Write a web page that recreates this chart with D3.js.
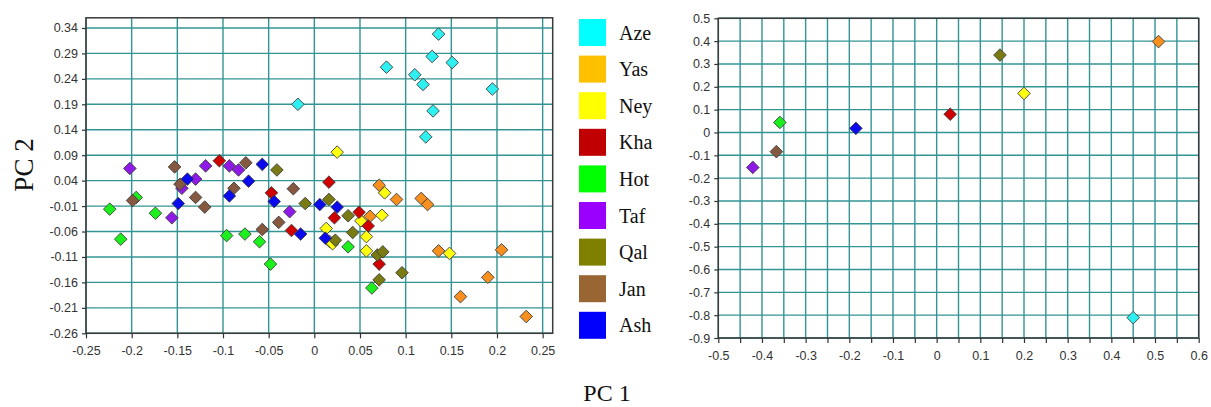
<!DOCTYPE html>
<html>
<head>
<meta charset="utf-8">
<script src="https://cdn.jsdelivr.net/npm/d3@7/dist/d3.min.js"></script>
<style>
  html, body { margin: 0; padding: 0; background: #fff; }
  svg { display: block; }
  .tick text { font-family: "Liberation Sans", Arial, sans-serif; font-size: 12.5px; fill: #333; }
  .tick line { stroke: #333; stroke-width: 1.2; }
</style>
</head>
<body>
<svg id="chart" width="1211" height="407"></svg>
<script>
// Population groups, in legend order
const groups = ["Aze", "Yas", "Ney", "Kha", "Hot", "Taf", "Qal", "Jan", "Ash"];
const swatchColors = ["#00ffff", "#ffc000", "#ffff00", "#c00000", "#00ff00", "#9900ff", "#808000", "#996633", "#0000ff"];
const markerColors = ["#2ff0f0", "#f7901e", "#ffff10", "#d00000", "#1cf01c", "#8f1ae8", "#7a7a12", "#85583f", "#0a0aee"];

// Individual samples: [PC1, PC2]
const aze = [[0.136, 0.328], [0.129, 0.284], [0.151, 0.272], [0.079, 0.263], [0.110, 0.248],
             [0.119, 0.229], [0.195, 0.220], [-0.018, 0.190], [0.130, 0.177], [0.122, 0.126]];
const yas = [[0.071, 0.031], [0.090, 0.003], [0.117, 0.005], [0.124, -0.007], [0.061, -0.030],
             [0.136, -0.098], [0.205, -0.096], [0.190, -0.150], [0.160, -0.188], [0.232, -0.227]];
const ney = [[0.025, 0.096], [0.077, 0.016], [0.074, -0.028], [0.051, -0.039], [0.013, -0.054],
             [0.017, -0.080], [0.020, -0.084], [0.057, -0.070], [0.057, -0.098], [0.148, -0.103]];
const kha = [[-0.104, 0.079], [-0.047, 0.016], [0.016, 0.037], [0.022, -0.033], [-0.025, -0.058],
             [0.049, -0.022], [0.059, -0.049], [0.071, -0.124]];
const hot = [[-0.224, -0.016], [-0.195, 0.007], [-0.212, -0.075], [-0.174, -0.024], [-0.096, -0.068],
             [-0.076, -0.065], [-0.060, -0.080], [-0.048, -0.124], [0.037, -0.090], [0.063, -0.171]];
const taf = [[-0.202, 0.064], [-0.119, 0.069], [-0.093, 0.069], [-0.083, 0.061], [-0.145, 0.025],
             [-0.130, 0.043], [-0.156, -0.033], [-0.027, -0.021]];
const qal = [[-0.041, 0.061], [-0.010, -0.005], [0.016, 0.003], [0.037, -0.029], [0.042, -0.062],
             [0.023, -0.077], [0.069, -0.106], [0.075, -0.100], [0.096, -0.141], [0.071, -0.155]];
const jan = [[-0.153, 0.067], [-0.075, 0.075], [-0.147, 0.033], [-0.199, 0.001], [-0.130, 0.007],
             [-0.120, -0.012], [-0.088, 0.025], [-0.023, 0.024], [-0.057, -0.056], [-0.039, -0.042]];
const ash = [[-0.057, 0.072], [-0.139, 0.043], [-0.072, 0.039], [-0.149, -0.005], [-0.093, 0.010],
             [-0.044, -0.001], [0.006, -0.007], [0.025, -0.012], [-0.015, -0.065], [0.012, -0.073]];
const samples = [aze, yas, ney, kha, hot, taf, qal, jan, ash];

// Group means, in legend order
const meanPC1 = [0.450, 0.508, 0.200, 0.031, -0.359, -0.421, 0.145, -0.367, -0.185];
const meanPC2 = [-0.811, 0.398, 0.171, 0.080, 0.044, -0.153, 0.339, -0.084, 0.018];

// Axis ticks
const leftXTicks = [-0.25, -0.2, -0.15, -0.1, -0.05, 0, 0.05, 0.1, 0.15, 0.2, 0.25];
const leftYTicks = [-0.26, -0.21, -0.16, -0.11, -0.06, -0.01, 0.04, 0.09, 0.14, 0.19, 0.24, 0.29, 0.34];
const rightXTicks = [-0.5, -0.4, -0.3, -0.2, -0.1, 0, 0.1, 0.2, 0.3, 0.4, 0.5, 0.6];
const rightYTicks = [-0.9, -0.8, -0.7, -0.6, -0.5, -0.4, -0.3, -0.2, -0.1, 0, 0.1, 0.2, 0.3, 0.4, 0.5];

const fmt = v => String(+v.toFixed(2));
const gridColor = "#339494";
const frameColor = "#3a3a3a";
const svg = d3.select("#chart");
svg.append("rect").attr("width", 1211).attr("height", 407).attr("fill", "#fff");

const diamond = r => `M0,${-r}L${r},0L0,${r}L${-r},0Z`;

function panel(xScale, yScale, xGrid, yGrid, xTickVals, xLabelled, yTickVals) {
  const g = svg.append("g");
  const [x0, x1] = xScale.range();
  const [y1, y0] = yScale.range();
  g.selectAll(".vg").data(xGrid).join("line")
    .attr("x1", d => xScale(d)).attr("x2", d => xScale(d))
    .attr("y1", y0).attr("y2", y1)
    .attr("stroke", gridColor).attr("stroke-width", 1.4);
  g.selectAll(".hg").data(yGrid).join("line")
    .attr("x1", x0).attr("x2", x1)
    .attr("y1", d => yScale(d)).attr("y2", d => yScale(d))
    .attr("stroke", gridColor).attr("stroke-width", 1.4);
  g.append("rect")
    .attr("x", x0).attr("y", y0).attr("width", x1 - x0).attr("height", y1 - y0)
    .attr("fill", "none").attr("stroke", frameColor).attr("stroke-width", 1.5);
  const xa = g.append("g").attr("transform", `translate(0,${y1})`)
    .call(d3.axisBottom(xScale).tickValues(xTickVals).tickSize(5).tickPadding(8)
      .tickFormat(d => xLabelled.some(t => Math.abs(t - d) < 1e-9) ? fmt(d) : ""));
  xa.select(".domain").remove();
  const ya = g.append("g").attr("transform", `translate(${x0},0)`)
    .call(d3.axisLeft(yScale).tickValues(yTickVals).tickSize(4).tickPadding(4).tickFormat(fmt));
  ya.select(".domain").remove();
  return g;
}

// Left panel: individual samples
const lx = d3.scaleLinear().domain([-0.25, 0.261]).range([86, 552.7]);
const ly = d3.scaleLinear().domain([-0.26, 0.36]).range([333.3, 17.8]);
const left = panel(lx, ly, leftXTicks, leftYTicks, leftXTicks, leftXTicks, leftYTicks);
samples.forEach((pts, i) => {
  left.append("g").selectAll("path").data(pts).join("path")
    .attr("d", diamond(6.3))
    .attr("transform", d => `translate(${lx(d[0])},${ly(d[1])})`)
    .attr("fill", markerColors[i])
    .attr("stroke", "#3d3d3d").attr("stroke-width", 0.9);
});

// Right panel: group means
const rx = d3.scaleLinear().domain([-0.5, 0.6]).range([718.3, 1198.7]);
const ry = d3.scaleLinear().domain([-0.9, 0.5]).range([338, 18.3]);
const rightXGrid = d3.range(0, 23).map(k => -0.5 + k * 0.05);
const right = panel(rx, ry, rightXGrid, rightYTicks, rightXGrid, rightXTicks, rightYTicks);
right.append("g").selectAll("path").data(groups).join("path")
  .attr("d", diamond(6.3))
  .attr("transform", (d, i) => `translate(${rx(meanPC1[i])},${ry(meanPC2[i])})`)
  .attr("fill", (d, i) => markerColors[i])
  .attr("stroke", "#3d3d3d").attr("stroke-width", 0.9);

// Legend
const legend = svg.append("g").attr("transform", "translate(579,19)");
const item = legend.selectAll("g").data(groups).join("g")
  .attr("transform", (d, i) => `translate(0,${i * 36.6})`);
item.append("rect").attr("width", 27).attr("height", 27).attr("fill", (d, i) => swatchColors[i]);
item.append("text").attr("x", 40).attr("y", 20.5).text(d => d)
  .attr("font-family", "'Liberation Serif', 'Times New Roman', serif")
  .attr("font-size", 20).attr("fill", "#111");

// Axis titles
svg.append("text").attr("transform", "translate(33,165) rotate(-90)")
  .attr("text-anchor", "middle")
  .attr("font-family", "'Liberation Serif', 'Times New Roman', serif")
  .attr("font-size", 27).attr("fill", "#111").text("PC 2");
svg.append("text").attr("x", 607).attr("y", 401)
  .attr("text-anchor", "middle")
  .attr("font-family", "'Liberation Serif', 'Times New Roman', serif")
  .attr("font-size", 24).attr("fill", "#111").text("PC 1");
</script>
</body>
</html>
